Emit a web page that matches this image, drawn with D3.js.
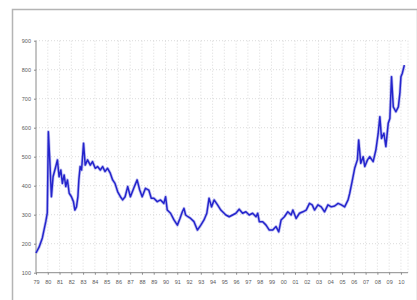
<!DOCTYPE html>
<html>
<head>
<meta charset="utf-8">
<script src="https://cdn.jsdelivr.net/npm/d3@7"></script>
<style>
  body { margin: 0; background: #fff; }
  svg { display: block; }
  .axis text { font-family: "Liberation Sans", Arial, sans-serif; font-size: 5.5px; fill: #5a5a5a; }
  .axis path, .axis line { stroke: #8a8a8a; }
</style>
</head>
<body>
<div id="chart"></div>
<script>
// years (decimal) and values
const years = [
  1979.00, 1979.26, 1979.54, 1979.83, 1979.96, 1980.05, 1980.17, 1980.31, 1980.45, 1980.68,
  1980.82, 1980.96, 1981.11, 1981.24, 1981.39, 1981.53, 1981.67, 1981.82, 1982.01, 1982.18,
  1982.30, 1982.44, 1982.56, 1982.64, 1982.75, 1982.87, 1983.04, 1983.18, 1983.38, 1983.61,
  1983.80, 1984.03, 1984.23, 1984.46, 1984.66, 1984.86, 1985.08, 1985.31, 1985.51, 1985.71,
  1985.94, 1986.17, 1986.36, 1986.57, 1986.79, 1987.02, 1987.30, 1987.59, 1987.81, 1988.02,
  1988.30, 1988.58, 1988.79, 1989.01, 1989.30, 1989.58, 1989.86, 1990.01, 1990.15, 1990.43,
  1990.72, 1991.01, 1991.23, 1991.43, 1991.57, 1991.71, 1991.91, 1992.14, 1992.42, 1992.71,
  1993.00, 1993.27, 1993.51, 1993.70, 1993.91, 1994.13, 1994.42, 1994.70, 1994.98, 1995.13,
  1995.41, 1995.70, 1995.98, 1996.26, 1996.55, 1996.83, 1997.11, 1997.40, 1997.69, 1997.83,
  1997.97, 1998.26, 1998.54, 1998.82, 1999.11, 1999.39, 1999.62, 1999.82, 2000.10, 2000.39,
  2000.67, 2000.82, 2001.10, 2001.38, 2001.67, 2001.95, 2002.23, 2002.46, 2002.66, 2002.95,
  2003.23, 2003.51, 2003.80, 2004.08, 2004.37, 2004.66, 2004.94, 2005.22, 2005.51, 2005.65,
  2005.85, 2006.07, 2006.30, 2006.41, 2006.59, 2006.79, 2006.93, 2007.16, 2007.35, 2007.64,
  2007.87, 2008.07, 2008.21, 2008.35, 2008.55, 2008.72, 2008.92, 2009.06, 2009.20, 2009.35,
  2009.57, 2009.78, 2009.91, 2010.00, 2010.12, 2010.29
];
const prices = [
  168, 188, 220, 276, 306, 586, 489, 362, 431, 466,
  489, 431, 454, 408, 437, 397, 420, 374, 362, 345,
  316, 327, 362, 420, 466, 454, 546, 471, 489, 471,
  483, 460, 466, 454, 466, 449, 460, 443, 420, 408,
  379, 362, 351, 362, 397, 362, 391, 420, 385, 362,
  391, 385, 357, 357, 345, 351, 339, 362, 316, 305,
  282, 264, 287, 310, 322, 299, 293, 287, 276, 247,
  264, 282, 305, 357, 327, 351, 334, 316, 305, 299,
  293, 299, 305, 319, 305, 310, 299, 305, 293, 305,
  276, 276, 264, 247, 247, 259, 241, 282, 293, 310,
  299, 316, 287, 305, 310, 316, 339, 334, 316, 334,
  327, 310, 334, 327, 330, 339, 334, 327, 351, 374,
  414, 460, 489, 558, 477, 500, 466, 489, 500, 483,
  523, 581, 638, 563, 581, 535, 615, 632, 776, 672,
  655, 672, 719, 776, 788, 816
];
const yTicks = [100, 200, 300, 400, 500, 600, 700, 800, 900];
const xTicks = d3.range(1979, 2011);

const W = 417, H = 300;
const plot = {left: 36, right: 408, top: 40.7, bottom: 272.7};

const svg = d3.select("#chart").append("svg")
  .attr("width", W)
  .attr("height", H);

// outer frame
svg.append("rect")
  .attr("x", 12.5).attr("y", 9.5)
  .attr("width", 405).attr("height", 300)
  .attr("fill", "#fff")
  .attr("stroke", "#b4b4b4")
  .attr("stroke-width", 1.5);

const x = d3.scaleLinear().domain([1979, 2010.6]).range([plot.left, plot.right]);
const y = d3.scaleLinear().domain([100, 900]).range([plot.bottom, plot.top]);

// grid
const grid = svg.append("g")
  .attr("stroke", "#d2d2d2")
  .attr("stroke-width", 0.8)
  .attr("stroke-dasharray", "1,2");

grid.selectAll("line.h")
  .data(yTicks.slice(1))
  .enter().append("line")
  .attr("x1", plot.left).attr("x2", plot.right)
  .attr("y1", d => y(d)).attr("y2", d => y(d));

grid.selectAll("line.v")
  .data(xTicks.slice(1).concat([2010.6]))
  .enter().append("line")
  .attr("x1", d => x(d)).attr("x2", d => x(d))
  .attr("y1", plot.top).attr("y2", plot.bottom);

// axes
svg.append("g")
  .attr("class", "axis")
  .attr("transform", `translate(${plot.left},0)`)
  .call(d3.axisLeft(y).tickValues(yTicks).tickSize(2).tickPadding(3))
  .call(g => g.select(".domain").attr("d", `M0,${plot.top}V${plot.bottom}`));

svg.append("g")
  .attr("class", "axis")
  .attr("transform", `translate(0,${plot.bottom})`)
  .call(d3.axisBottom(x).tickValues(xTicks).tickSize(2).tickPadding(5)
    .tickFormat(d => String(d).slice(2)))
  .call(g => g.select(".domain").attr("d", `M${plot.left},0H${plot.right}`));

// price line (soft halo under a solid stroke, like the blurred original)
const data = years.map((d, i) => ({year: d, value: prices[i]}));
const line = d3.line()
  .x(d => x(d.year))
  .y(d => y(d.value));

svg.append("path")
  .datum(data)
  .attr("fill", "none")
  .attr("stroke", "#8c8ce6")
  .attr("stroke-opacity", 0.55)
  .attr("stroke-width", 3)
  .attr("stroke-linejoin", "round")
  .attr("d", line);

svg.append("path")
  .datum(data)
  .attr("fill", "none")
  .attr("stroke", "#2424cc")
  .attr("stroke-width", 1.5)
  .attr("stroke-linejoin", "round")
  .attr("d", line);
</script>
</body>
</html>
